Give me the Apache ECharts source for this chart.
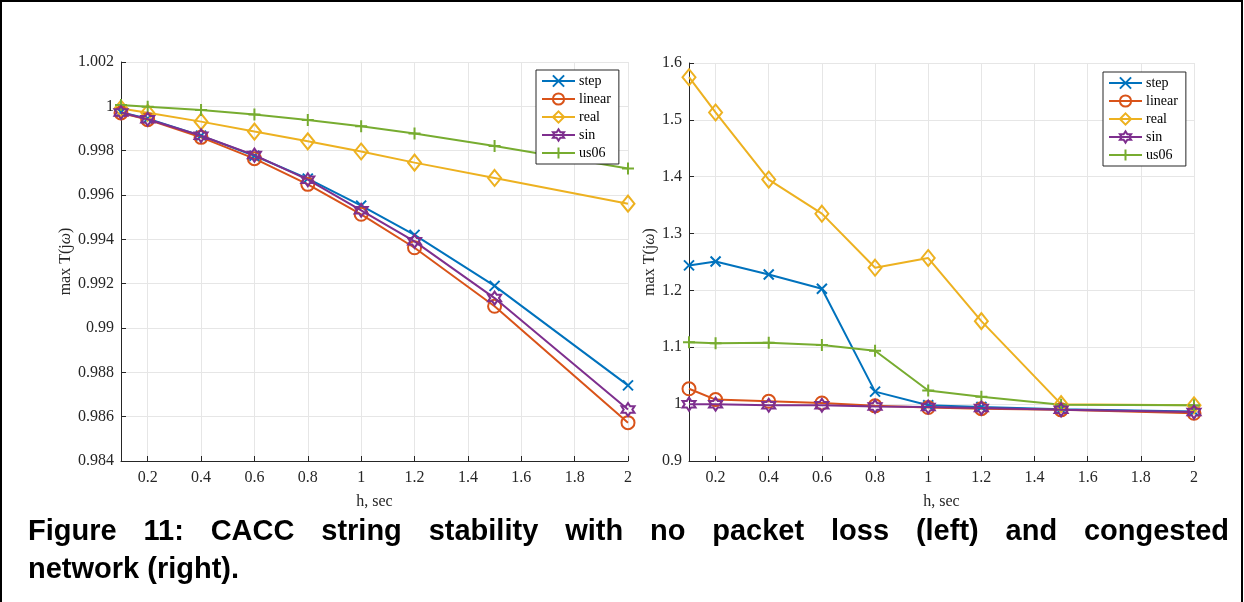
<!DOCTYPE html>
<html>
<head>
<meta charset="utf-8">
<script src="https://cdn.jsdelivr.net/npm/echarts@6/dist/echarts.min.js"></script>
<style>
html,body{margin:0;padding:0;background:#fff;}
#chart{width:1244px;height:602px;}
</style>
</head>
<body>
<div id="chart"></div>
<script>
// ---- data ----
const hValues = [0.1, 0.2, 0.4, 0.6, 0.8, 1, 1.2, 1.5, 2];
const seriesNames = ['step', 'linear', 'real', 'sin', 'us06'];

// left: no packet loss
const leftStep   = [0.99974, 0.99944, 0.99868, 0.99777, 0.99674, 0.99552, 0.99420, 0.99190, 0.98741];
const leftLinear = [0.99970, 0.99940, 0.99860, 0.99764, 0.99648, 0.99513, 0.99362, 0.99098, 0.98573];
const leftReal   = [0.99990, 0.99971, 0.99931, 0.99886, 0.99842, 0.99796, 0.99746, 0.99677, 0.99561];
const leftSin    = [0.99972, 0.99942, 0.99867, 0.99780, 0.99669, 0.99531, 0.99391, 0.99135, 0.98632];
const leftUs06   = [1.00006, 0.99998, 0.99983, 0.99963, 0.99938, 0.99910, 0.99877, 0.99821, 0.99720];

// right: congested network
const rightStep   = [1.244, 1.251, 1.228, 1.203, 1.022, 0.998, 0.995, 0.991, 0.987];
const rightLinear = [1.027, 1.008, 1.005, 1.002, 0.997, 0.994, 0.992, 0.990, 0.984];
const rightReal   = [1.575, 1.513, 1.395, 1.335, 1.240, 1.257, 1.146, 1.000, 0.998];
const rightSin    = [1.000, 1.000, 0.998, 0.998, 0.996, 0.995, 0.993, 0.990, 0.986];
const rightUs06   = [1.109, 1.107, 1.108, 1.104, 1.094, 1.024, 1.013, 0.999, 0.998];

const xTickValues = [0.2, 0.4, 0.6, 0.8, 1, 1.2, 1.4, 1.6, 1.8, 2];
const captionLine1 = 'Figure 11: CACC string stability with no packet loss (left) and congested';
const captionLine2 = 'network (right).';

// ---- styles ----
const colors = ['#0072BD', '#D95319', '#EDB120', '#7E2F8E', '#77AC30'];
const symbols = [
  'path://M0,0L10,10M10,0L0,10',
  'circle',
  'path://M6,0L12,8L6,16L0,8Z',
  'path://M10,0L12.89,5L18.66,5L15.77,10L18.66,15L12.89,15L10,20L7.11,15L1.34,15L4.23,10L1.34,5L7.11,5Z',
  'path://M5,0L5,10M0,5L10,5'
];
const symbolSizes = [10, 13, [13, 16], 13, 12];
const serif = '"Liberation Serif", "DejaVu Serif", serif';
const axisColor = '#262626';
const gridColor = '#e6e6e6';

const leftData = [leftStep, leftLinear, leftReal, leftSin, leftUs06];
const rightData = [rightStep, rightLinear, rightReal, rightSin, rightUs06];

function trimNum(v, d) { return String(parseFloat(v.toFixed(d))); }

function makeX(gridIndex) {
  return {
    type: 'value', gridIndex: gridIndex, min: 0.1, max: 2,
    name: 'h, sec', nameLocation: 'middle', nameGap: 33,
    nameTextStyle: { fontFamily: serif, fontSize: 16, color: axisColor },
    axisLine: { show: true, onZero: false, lineStyle: { color: axisColor, width: 1 } },
    axisTick: { show: true, inside: true, length: 5, customValues: xTickValues, lineStyle: { color: axisColor } },
    axisLabel: { customValues: xTickValues, fontFamily: serif, fontSize: 16, color: axisColor, margin: 9,
      formatter: v => trimNum(v, 1) },
    splitLine: { show: true, lineStyle: { color: gridColor, width: 1 } }
  };
}
function makeY(gridIndex, min, max, interval, dec, gap) {
  return {
    type: 'value', gridIndex: gridIndex, min: min, max: max, interval: interval,
    name: 'max T(j{w|ω})', nameLocation: 'middle', nameGap: gap,
    nameTextStyle: { fontFamily: serif, fontSize: 16, color: axisColor,
      rich: { w: { fontFamily: serif, fontSize: 16, fontStyle: 'italic', color: axisColor } } },
    axisLine: { show: true, lineStyle: { color: axisColor, width: 1 } },
    axisTick: { show: true, inside: true, length: 5, lineStyle: { color: axisColor } },
    axisLabel: { fontFamily: serif, fontSize: 16, color: axisColor, margin: 7,
      formatter: v => trimNum(v, dec) },
    splitLine: { show: true, lineStyle: { color: gridColor, width: 1 } }
  };
}

const series = [];
[leftData, rightData].forEach((set, gi) => {
  set.forEach((vals, i) => {
    series.push({
      type: 'line', name: seriesNames[i], xAxisIndex: gi, yAxisIndex: gi,
      data: hValues.map((h, k) => [h, vals[k]]),
      color: colors[i],
      symbol: symbols[i], symbolSize: symbolSizes[i], showAllSymbol: true,
      lineStyle: { color: colors[i], width: 2 },
      itemStyle: { color: 'rgba(255,255,255,0)', borderColor: colors[i], borderWidth: 2 },
      emphasis: { disabled: true },
      animation: false,
      z: 3 + (i === 3 ? 1 : 0)
    });
  });
});

function makeLegend(left, top) {
  return {
    data: seriesNames, orient: 'vertical', left: left, top: top,
    padding: [4, 8, 4, 5], itemGap: 4, itemWidth: 33, itemHeight: 14,
    borderColor: axisColor, borderWidth: 1, backgroundColor: '#fff',
    selectedMode: false,
    textStyle: { fontFamily: serif, fontSize: 14, color: '#000', padding: [0, 0, 0, -1] }
  };
}

// caption justified layout
const mctx = document.createElement('canvas').getContext('2d');
const capFont = 'bold 29px "Liberation Sans", Arial, sans-serif';
mctx.font = capFont;
const words = captionLine1.split(' ');
const capLeft = 28, capRight = 1229;
const wsum = words.reduce((s, w) => s + mctx.measureText(w).width, 0);
const gapW = (capRight - capLeft - wsum) / (words.length - 1);
const graphics = [];
let cx = capLeft;
words.forEach(w => {
  graphics.push({ type: 'text', left: cx, top: 517, style: { text: w, font: capFont, fill: '#000' } });
  cx += mctx.measureText(w).width + gapW;
});
graphics.push({ type: 'text', left: capLeft, top: 555, style: { text: captionLine2, font: capFont, fill: '#000' } });
graphics.push({ type: 'rect', shape: { x: 1, y: 1, width: 1241, height: 640 },
  style: { fill: 'none', stroke: '#000', lineWidth: 2 }, silent: true, z: 100 });

const chart = echarts.init(document.getElementById('chart'), null, { renderer: 'canvas' });
chart.setOption({
  animation: false,
  backgroundColor: '#fff',
  grid: [
    { left: 121, top: 62, width: 507, height: 399 },
    { left: 689, top: 63, width: 505, height: 398 }
  ],
  xAxis: [makeX(0), makeX(1)],
  yAxis: [makeY(0, 0.984, 1.002, 0.002, 3, 46), makeY(1, 0.9, 1.6, 0.1, 1, 30)],
  legend: [makeLegend(536, 70), makeLegend(1103, 72)],
  series: series,
  graphic: graphics
});
</script>
</body>
</html>
